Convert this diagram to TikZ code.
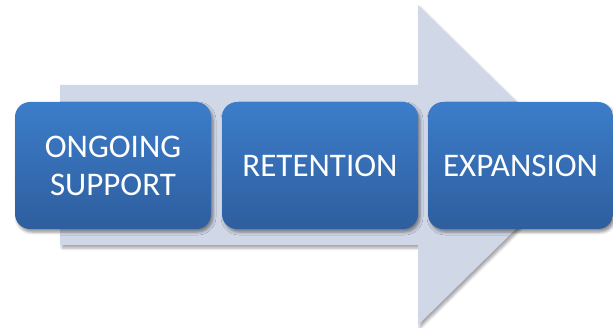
\documentclass[tikz,border=0pt]{standalone}
\usepackage{fontspec}
\setmainfont{Carlito}
\usetikzlibrary{shadows.blur}
\definecolor{arrowfill}{HTML}{D0D8E8}
\definecolor{boxtop}{HTML}{3C7DCA}
\definecolor{boxbot}{HTML}{2E5E9E}
\tikzset{
  stepbox/.style={rectangle, rounded corners=15pt, top color=boxtop, bottom color=boxbot,
    text=white, align=center, inner sep=0pt, minimum height=127pt,
    font=\fontsize{33}{38}\selectfont,
    blur shadow={shadow xshift=2pt, shadow yshift=-3pt, shadow blur radius=3pt, shadow opacity=45}},
  bigarrow/.style={fill=arrowfill, draw=none,
    blur shadow={shadow xshift=2pt, shadow yshift=-3pt, shadow blur radius=2.5pt, shadow opacity=35}}
}
\begin{document}
\begin{tikzpicture}[x=1pt,y=-1pt]
\useasboundingbox (0,0) rectangle (613,328);
\path[bigarrow] (60,85) -- (418,85) -- (418,5) -- (581,165) -- (418,325) -- (418,245) -- (60,245) -- cycle;
\node[stepbox, minimum width=196pt] (s1) at (113,165.5) {ONGOING\\SUPPORT};
\node[stepbox, minimum width=196pt] (s2) at (320,165.5) {RETENTION};
\node[stepbox, minimum width=185pt] (s3) at (520.5,165.5) {EXPANSION};
\end{tikzpicture}
\end{document}
